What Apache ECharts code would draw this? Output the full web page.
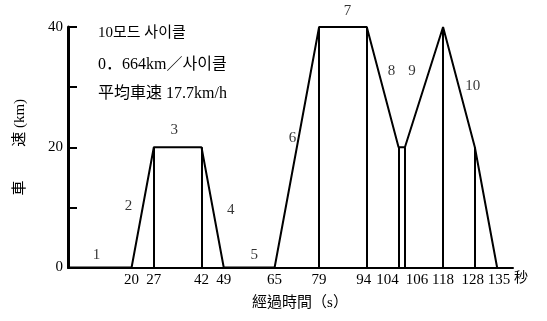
<!DOCTYPE html>
<html>
<head>
<meta charset="utf-8">
<script src="https://cdn.jsdelivr.net/npm/echarts@6/dist/echarts.min.js"></script>
<style>
  html, body { margin: 0; padding: 0; background: #fff; }
  #chart { width: 547px; height: 321px; }
</style>
</head>
<body>
<div id="chart"></div>
<script>
// 10-mode driving cycle: elapsed time (s) against vehicle speed (km/h)
const times  = [0, 20, 27, 42, 49, 65, 79, 94, 104, 106, 118, 128, 135];
const speeds = [0, 0, 20, 20, 0, 0, 40, 40, 20, 20, 40, 20, 0];

// tick labels
const xTickValues = [20, 27, 42, 49, 65, 79, 94, 104, 106, 118, 128, 135];
const yTickLabels = [0, 20, 40];

// mode numbers and where each one sits (time, speed)
const modeNames = ['1', '2', '3', '4', '5', '6', '7', '8', '9', '10'];
const modeLabelAt = [
  [9, 2], [19, 10.3], [33.4, 22.9], [51.2, 9.6], [58.6, 2],
  [70.6, 21.6], [87.9, 42.6], [101.8, 32.6], [108.2, 32.6], [127.3, 30.2]
];

// cycle summary lines
const infoLines = ['10모드 사이클', '0．664km／사이클', '平均車速 17.7km/h'];

const SERIF = '"Liberation Serif", "Noto Sans CJK JP", serif';
const SERIF_KR = '"Liberation Serif", "Noto Sans CJK KR", serif';
const SERIF_TC = '"Liberation Serif", "Noto Sans CJK TC", serif';
const INK = '#000';

// horizontal nudges (px) that keep crowded tick labels apart
const labelNudge = { 94: -3, 104: -11, 106: 12, 128: -2, 135: 2 };

const profile = times.map((t, i) => [t, speeds[i]]);

// vertical drop lines from the axis up to every non-zero breakpoint
const dropLines = profile
  .filter(p => p[1] > 0)
  .map(p => [{ coord: [p[0], 0] }, { coord: [p[0], p[1]] }]);

const xRich = {};
Object.keys(labelNudge).forEach(k => {
  const s = labelNudge[k];
  xRich['n' + k] = {
    fontSize: 15, fontFamily: SERIF, color: INK,
    padding: s < 0 ? [0, -2 * s, 0, 0] : [0, 0, 0, 2 * s]
  };
});

const chart = echarts.init(document.getElementById('chart'), null, { renderer: 'canvas' });

chart.setOption({
  animation: false,
  backgroundColor: '#fff',
  grid: { left: 68, right: 34, top: 27, bottom: 53.5 },
  xAxis: {
    type: 'value',
    min: 0,
    max: 140,
    name: '經過時間（s）',
    nameLocation: 'middle',
    nameGap: 28,
    nameTextStyle: {
      color: INK, fontSize: 15, fontFamily: SERIF_TC,
      padding: [0, 0, 0, 19]
    },
    axisLine: { show: true, onZero: false, lineStyle: { color: INK, width: 2 } },
    axisTick: { show: false },
    splitLine: { show: false },
    axisLabel: {
      customValues: xTickValues,
      hideOverlap: false,
      color: INK,
      fontSize: 15,
      fontFamily: SERIF,
      margin: 5,
      formatter: v => (labelNudge[v] !== undefined ? '{n' + v + '|' + v + '}' : String(v)),
      rich: xRich
    }
  },
  yAxis: {
    type: 'value',
    min: 0,
    max: 40,
    interval: 10,
    name: '車　　 速 (km)',
    nameLocation: 'middle',
    nameGap: 40,
    nameRotate: 90,
    nameTextStyle: { color: INK, fontSize: 15, fontFamily: SERIF },
    axisLine: { show: true, lineStyle: { color: INK, width: 3 } },
    axisTick: { show: true, inside: true, length: 9, lineStyle: { color: INK, width: 2 } },
    splitLine: { show: false },
    axisLabel: {
      color: INK,
      fontSize: 15,
      fontFamily: SERIF,
      margin: 5,
      formatter: v => (yTickLabels.includes(v) ? String(v) : '')
    }
  },
  series: [
    {
      type: 'line',
      data: profile,
      symbol: 'none',
      silent: true,
      lineStyle: { color: INK, width: 2 },
      markLine: {
        silent: true,
        symbol: 'none',
        label: { show: false },
        lineStyle: { color: INK, width: 2, type: 'solid' },
        data: dropLines
      }
    },
    {
      type: 'scatter',
      silent: true,
      clip: false,
      symbolSize: 0,
      data: modeLabelAt.map((p, i) => ({ value: p, name: modeNames[i] })),
      label: {
        show: true,
        position: 'inside',
        formatter: '{b}',
        color: INK,
        fontSize: 15,
        fontFamily: SERIF
      }
    }
  ],
  graphic: [
    {
      type: 'text', left: 98, top: 26, silent: true,
      style: { text: infoLines[0], fill: INK, fontSize: 15, fontFamily: SERIF_KR }
    },
    {
      type: 'text', left: 98, top: 57, silent: true,
      style: { text: infoLines[1], fill: INK, fontSize: 16, fontFamily: SERIF_KR }
    },
    {
      type: 'text', left: 98, top: 86, silent: true,
      style: { text: infoLines[2], fill: INK, fontSize: 16, fontFamily: SERIF }
    },
    {
      type: 'text', left: 514, top: 271, silent: true,
      style: { text: '秒', fill: INK, fontSize: 14, fontFamily: SERIF }
    }
  ]
});
</script>
</body>
</html>
